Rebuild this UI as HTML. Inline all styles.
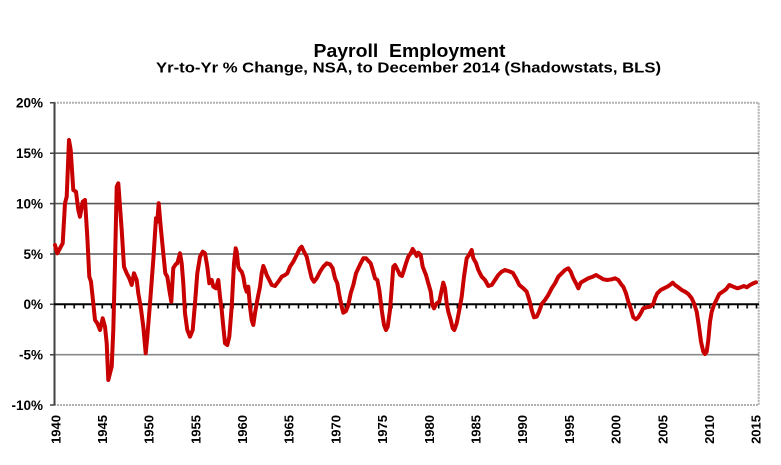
<!DOCTYPE html>
<html>
<head>
<meta charset="utf-8">
<style>
  html, body { margin: 0; padding: 0; background: #ffffff; }
  body { width: 781px; height: 465px; overflow: hidden; }
  svg { display: block; }
  text { font-family: "Liberation Sans", Arial, sans-serif; font-weight: bold; fill: #000; }
</style>
</head>
<body>
<svg width="781" height="465" viewBox="0 0 781 465" xmlns="http://www.w3.org/2000/svg">
  <defs>
    <pattern id="tk" x="54.7" y="0" width="9.3467" height="465" patternUnits="userSpaceOnUse">
      <rect x="0" y="0" width="1.6" height="465" fill="#000"/>
    </pattern>
  </defs>
  <rect x="0" y="0" width="781" height="465" fill="#ffffff"/>

  <!-- Titles -->
  <text x="313.5" y="57" font-size="18" textLength="192" lengthAdjust="spacingAndGlyphs" xml:space="preserve">Payroll  Employment</text>
  <text x="156" y="72.5" font-size="15" textLength="505" lengthAdjust="spacingAndGlyphs">Yr-to-Yr % Change, NSA, to December 2014 (Shadowstats, BLS)</text>

  <!-- Plot borders -->
  <line x1="54" y1="102.7" x2="759" y2="102.7" stroke="#b0b0b0" stroke-width="2" stroke-dasharray="2,1"/>
  <line x1="54" y1="405" x2="759" y2="405" stroke="#b0b0b0" stroke-width="2" stroke-dasharray="2,1"/>
  <line x1="758.7" y1="102.7" x2="758.7" y2="405" stroke="#b0b0b0" stroke-width="2" stroke-dasharray="2,1"/>

  <!-- Gridlines -->
  <line x1="54" y1="153.2" x2="759" y2="153.2" stroke="#5a5a5a" stroke-width="1.6"/>
  <line x1="54" y1="203.6" x2="759" y2="203.6" stroke="#5a5a5a" stroke-width="1.6"/>
  <line x1="54" y1="254" x2="759" y2="254" stroke="#5a5a5a" stroke-width="1.6"/>
  <line x1="54" y1="354.7" x2="759" y2="354.7" stroke="#888888" stroke-width="1.6"/>

  <!-- Left axis -->
  <line x1="54.5" y1="102.7" x2="54.5" y2="405" stroke="#404040" stroke-width="2"/>
  <path d="M50 102.7H54.5M50 153.2H54.5M50 203.6H54.5M50 254H54.5M50 304.3H54.5M50 354.7H54.5M50 405H54.5" stroke="#404040" stroke-width="1.5"/>

  <!-- Zero line with yearly ticks -->
  <line x1="54" y1="304.3" x2="759" y2="304.3" stroke="#000" stroke-width="2"/>
  <rect x="60" y="304" width="699" height="4.5" fill="url(#tk)"/>

  <!-- Y labels -->
  <g font-size="13.5" text-anchor="end">
    <text x="43" y="107.5">20%</text>
    <text x="43" y="158">15%</text>
    <text x="43" y="208.5">10%</text>
    <text x="43" y="259">5%</text>
    <text x="43" y="309">0%</text>
    <text x="43" y="359.5">-5%</text>
    <text x="43" y="410">-10%</text>
  </g>

  <!-- X labels -->
  <g font-size="13" text-anchor="end">
    <text transform="translate(60.3,415) rotate(-90)">1940</text>
    <text transform="translate(107,415) rotate(-90)">1945</text>
    <text transform="translate(153.6,415) rotate(-90)">1950</text>
    <text transform="translate(200.3,415) rotate(-90)">1955</text>
    <text transform="translate(247,415) rotate(-90)">1960</text>
    <text transform="translate(293.7,415) rotate(-90)">1965</text>
    <text transform="translate(340.4,415) rotate(-90)">1970</text>
    <text transform="translate(387.1,415) rotate(-90)">1975</text>
    <text transform="translate(433.8,415) rotate(-90)">1980</text>
    <text transform="translate(480.5,415) rotate(-90)">1985</text>
    <text transform="translate(527.2,415) rotate(-90)">1990</text>
    <text transform="translate(573.9,415) rotate(-90)">1995</text>
    <text transform="translate(620.6,415) rotate(-90)">2000</text>
    <text transform="translate(667.3,415) rotate(-90)">2005</text>
    <text transform="translate(714,415) rotate(-90)">2010</text>
    <text transform="translate(760.7,415) rotate(-90)">2015</text>
  </g>

  <!-- Series -->
  <polyline fill="none" stroke="#c80000" stroke-width="4" stroke-linejoin="round" stroke-linecap="round" points="55,245 57.3,253.3 60,248.3 62.7,243.3 65,203.3 66.7,196.7 69,140 70.7,150 73.3,190 76,191.7 78.3,210 80,216.7 82.7,201.7 85,200 87.3,236.7 89.3,276.7 91,281.7 93.3,303.3 95,320 97.3,323.3 100,330 102.7,318.3 105,326.7 106.7,343.3 108.3,380 110,373.3 111.7,366.7 113.3,330 115,263.3 116.7,186.7 118.3,183.3 120,206.7 121.7,230 124,266.7 126.7,273.3 129.3,278.3 131.7,285 134,273.3 136.7,280 138.3,293.3 140.7,306.7 143.3,326.7 145.7,353.3 147.3,336.7 150,303.3 153.3,260 156,218.3 157.3,221.7 158.7,203.3 160.7,226.7 163.3,253.3 165.3,273.3 167.3,276.7 169.3,290 171.3,301.7 173.3,268 176,264 177.3,263.3 180,253.3 181.7,263.3 183.3,283.3 185,313.3 187.3,330 190,336.7 192.7,330 195,303.3 197.3,273.3 200,256.7 202.7,251.7 205,253.3 207.3,266.7 209.3,283.3 211.7,280 213.3,286.7 216,288.3 218.3,280 220,296.7 221.7,310 223.3,326.7 225,343.3 227.3,345 229.3,336.7 231.7,306.7 234,263.3 235.7,248.3 236.7,251.7 238.3,266.7 240,270 241.7,271.7 243.3,276.7 245,286.7 246.7,291.7 248.3,286.7 250,306.7 251.7,320 253.3,325 255,313.3 257.3,300 260,286.7 261.7,273.3 263.3,266 265,270 266.7,275 269.3,280 271.7,285 275,286 278.3,281.7 281.7,276.7 285,275 287.3,273.3 290,266.7 293.3,261.7 296.7,255 300,248.3 301.7,246.7 304,251.7 306.7,256.7 309.3,268.3 311.7,278.3 314,281.7 316.7,278.3 320,271.7 323.3,266.7 326.7,263.3 330,264.3 332.7,268.3 335,278.3 337.3,283.3 339.3,295 341.7,306.7 343.3,312.7 346,311 348.3,305 350.7,293.3 353.3,285 356,273.3 358.3,268.3 360.7,263.3 363.3,258.3 366,258.3 368.3,260.7 370.7,263.3 372.7,270 375,278.3 377.3,280 379.3,290 381.7,310 384,325 386,330 387.7,326.7 390,310 391.7,288.3 393.3,266.7 395,265 397.3,269.3 400,275 402,276 404,270 406,263.3 408.3,256.7 410.7,253.3 412.7,249 415,252.7 416.7,256 418.3,252.7 420.7,255 422.7,266.7 426,275 428.3,283.3 430.7,291.7 432.3,305 434,308.3 436.7,303.3 439.3,301.7 441.7,290 443.3,282.7 445,288.3 446.7,303.3 448.3,311.7 450.7,320 452.7,328.3 454.3,330 456.7,323.3 459.3,310 461.7,296.7 464,276.7 466.7,258.3 469,255 471.7,250 473.3,258.3 476,263 478.3,270 481.7,276.7 485,280 488.3,286 491.7,285 495,280 498.3,275 501.7,271.7 505,270 508.3,271 512.7,272.7 516,278.3 519.3,285 523.3,288.3 526.7,291.7 529.3,300 531.7,310 534,317.3 536.7,316.7 539,311.7 541.7,304 545,300 548.3,295 551.7,288.3 555,283.3 558.3,276.7 561.7,273.3 565,270 568.3,268.3 570.7,271.7 573.3,278.3 576,283.3 578.3,288.3 580.7,282.7 584,280.7 588.3,278.3 592.7,276.7 596,275 600,277.3 603.3,279.3 607.3,280 611.7,279.3 615,278.3 618.3,280 621.7,285 623.3,286.7 626,293.3 628.3,301.7 630.7,308.3 633.3,317.3 636,319.3 638.3,317.3 640.7,313.3 643.3,308.3 646.7,307.3 650,306.7 653.3,304 655,298.3 657.3,293.3 660.7,290 664,288.3 667.3,286.7 670,285 672.7,282.7 675,285 678.3,287.3 681.7,290 685,291.7 688.3,294 691.7,298.3 694,303.3 696.7,311.7 699,326.7 701,341.7 703.3,351.7 705,354 706.7,351.7 708.3,340 710,321.7 711.7,311.7 714,305 716.7,299.3 719.3,294 722.7,291.7 726,289.3 729.3,285 733.3,286.7 737.3,288.3 740.7,287.3 744,286 746.7,287.3 750,285 753.3,283.3 756,282.3"/>
</svg>
</body>
</html>
